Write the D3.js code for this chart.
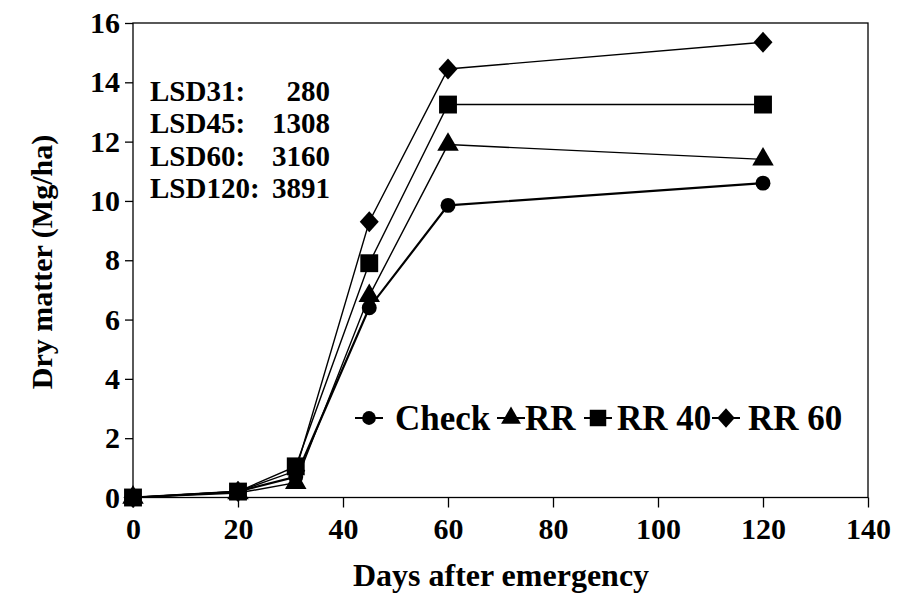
<!DOCTYPE html>
<html>
<head>
<meta charset="utf-8">
<script src="https://cdn.jsdelivr.net/npm/d3@7"></script>
</head>
<body style="margin:0; background:#fff">
<svg width="898" height="604"></svg>
<script>
const days = [0, 20, 31, 45, 60, 120];
const check = [0, 0.2, 0.7, 6.4, 9.85, 10.6];
const rr = [0, 0.15, 0.5, 6.8, 11.9, 11.4];
const rr40 = [0, 0.2, 1.05, 7.9, 13.25, 13.25];
const rr60 = [0, 0.2, 0.9, 9.3, 14.45, 15.35];
const seriesNames = ['Check', 'RR', 'RR 40', 'RR 60'];
const xTicks = [0, 20, 40, 60, 80, 100, 120, 140];
const yTicks = [0, 2, 4, 6, 8, 10, 12, 14, 16];
const lsdLabels = ['LSD31:', 'LSD45:', 'LSD60:', 'LSD120:'];
const lsdValues = ['280', '1308', '3160', '3891'];

const svg = d3.select('svg');

// times-like bold text
function serif(sel, size) {
  return sel.style('font-family', '"Liberation Serif"')
      .style('font-weight', 'bold')
      .style('font-size', size + 'px')
      .attr('fill', '#000');
}

const x = d3.scaleLinear().domain([0, 140]).range([133, 868]);
const y = d3.scaleLinear().domain([0, 16]).range([497.5, 23]);

// frame
svg.append('rect')
    .attr('x', x(0)).attr('y', y(16))
    .attr('width', x(140) - x(0)).attr('height', y(0) - y(16))
    .attr('fill', 'none').attr('stroke', '#000').attr('stroke-width', 1.3);

const xAxis = svg.append('g')
    .attr('transform', `translate(0,${y(0)})`)
    .call(d3.axisBottom(x).tickValues(xTicks).tickSize(10).tickPadding(10));
xAxis.select('.domain').remove();
serif(xAxis.selectAll('text'), 30);

const yAxis = svg.append('g')
    .attr('transform', `translate(${x(0)},0)`)
    .call(d3.axisLeft(y).tickValues(yTicks).tickSize(8).tickPadding(5));
yAxis.select('.domain').remove();
serif(yAxis.selectAll('text'), 30);
svg.selectAll('.tick line').attr('stroke', '#000').attr('stroke-width', 1.3);

serif(svg.append('text'), 32)
    .attr('x', 501).attr('y', 586)
    .attr('text-anchor', 'middle')
    .text('Days after emergency');

serif(svg.append('text'), 30)
    .attr('transform', 'translate(52,262) rotate(-90)')
    .attr('text-anchor', 'middle')
    .text('Dry matter (Mg/ha)');

// LSD notes
lsdLabels.forEach((d, i) => {
  serif(svg.append('text'), 29).attr('x', 150).attr('y', 101 + i * 32.3).text(d);
  serif(svg.append('text'), 29).attr('x', 330).attr('y', 101 + i * 32.3)
      .attr('text-anchor', 'end').text(lsdValues[i]);
});

// squat diamond like the original marker
const diamond = {
  draw(ctx, size) {
    const w = Math.sqrt(size / 2) * 0.95, h = Math.sqrt(size / 2) * 1.05;
    ctx.moveTo(0, -h); ctx.lineTo(w, 0); ctx.lineTo(0, h); ctx.lineTo(-w, 0); ctx.closePath();
  }
};
const symbols = [d3.symbolCircle, d3.symbolTriangle, d3.symbolSquare, diamond];
const symSizes = [175, 200, 320, 200];
const lineWidths = [2.2, 1.4, 1.4, 1.4];
const allSeries = [check, rr, rr40, rr60];

const line = d3.line().x((d, i) => x(days[i])).y(d => y(d));

allSeries.forEach((vals, s) => {
  svg.append('path')
      .attr('d', line(vals))
      .attr('fill', 'none').attr('stroke', '#000')
      .attr('stroke-width', lineWidths[s]);
});
allSeries.forEach((vals, s) => {
  svg.append('g').selectAll('path')
      .data(vals).join('path')
      .attr('transform', (d, i) => `translate(${x(days[i])},${y(d)})`)
      .attr('d', d3.symbol().type(symbols[s]).size(symSizes[s]))
      .attr('fill', '#000');
});

// legend
const legendSym = [369, 511, 598, 726];
const legendText = [395, 525, 617, 748];
const legendY = 418;
seriesNames.forEach((name, s) => {
  const g = svg.append('g').attr('transform', `translate(0,${legendY})`);
  g.append('line').attr('x1', legendSym[s] - 14).attr('x2', legendSym[s] + 14)
      .attr('stroke', '#000').attr('stroke-width', 2);
  g.append('path').attr('transform', `translate(${legendSym[s]},0)`)
      .attr('d', d3.symbol().type(symbols[s]).size(symSizes[s] * 0.85))
      .attr('fill', '#000');
  serif(g.append('text'), 35).attr('x', legendText[s]).attr('y', 12).text(name);
});
</script>
</body>
</html>
